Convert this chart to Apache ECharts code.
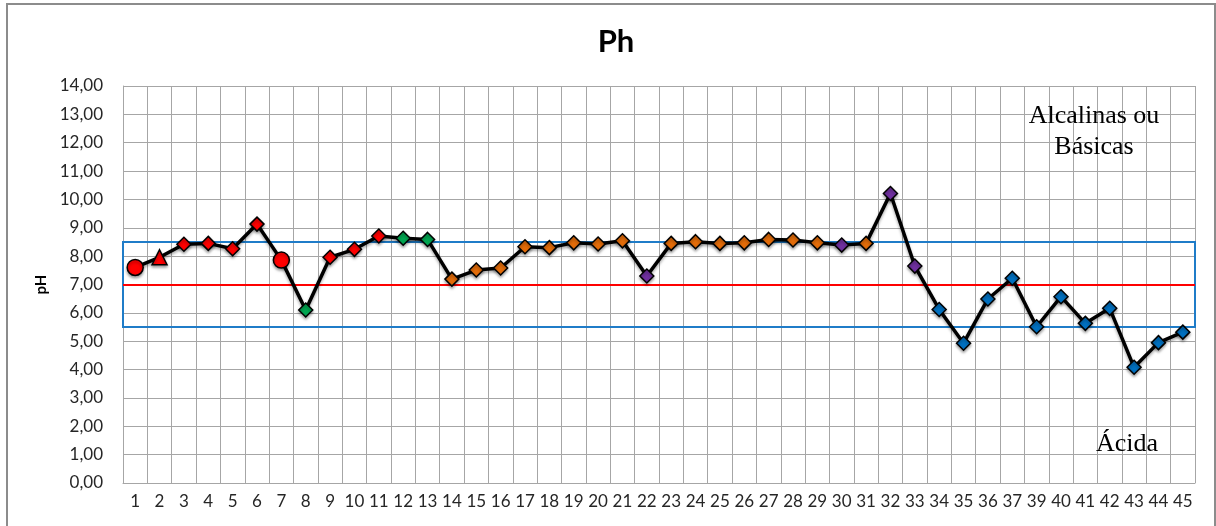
<!DOCTYPE html>
<html>
<head>
<meta charset="utf-8">
<script src="https://cdn.jsdelivr.net/npm/echarts@6/dist/echarts.min.js"></script>
<style>
  html, body { margin: 0; padding: 0; background: #fff; }
  #chart { width: 1216px; height: 526px; }
</style>
</head>
<body>
<div id="chart"></div>
<script>
// amostras (sem a 38)
var categories = ['1', '2', '3', '4', '5', '6', '7', '8', '9', '10', '11', '12', '13', '14', '15',
  '16', '17', '18', '19', '20', '21', '22', '23', '24', '25', '26', '27', '28', '29', '30',
  '31', '32', '33', '34', '35', '36', '37', '39', '40', '41', '42', '43', '44', '45'];
var phValues = [7.60, 7.96, 8.42, 8.45, 8.26, 9.13, 7.86, 6.10, 7.96, 8.24, 8.71, 8.63, 8.59, 7.19, 7.51,
  7.58, 8.33, 8.30, 8.47, 8.43, 8.54, 7.30, 8.45, 8.51, 8.45, 8.47, 8.59, 8.57, 8.47, 8.39,
  8.45, 10.21, 7.65, 6.12, 4.93, 6.49, 7.22, 5.51, 6.57, 5.63, 6.16, 4.08, 4.95, 5.32];
var sampleGroup = ['red', 'red', 'red', 'red', 'red', 'red', 'red', 'green', 'red', 'red', 'red', 'green', 'green',
  'orange', 'orange', 'orange', 'orange', 'orange', 'orange', 'orange', 'orange', 'purple',
  'orange', 'orange', 'orange', 'orange', 'orange', 'orange', 'orange', 'purple', 'orange',
  'purple', 'purple', 'blue', 'blue', 'blue', 'blue', 'blue', 'blue', 'blue', 'blue', 'blue', 'blue', 'blue'];
var sampleMarker = ['circle', 'triangle', 'diamond', 'diamond', 'diamond', 'diamond', 'circle'];
var yTicks = [0, 14, 1];
var neutralPh = 7;
var rangeLow = 5.5, rangeHigh = 8.5;

var groupColors = {
  red: '#ff0000',
  green: '#00a651',
  orange: '#e36c09',
  purple: '#7030a0',
  blue: '#0070c0'
};

var points = phValues.map(function (v, i) {
  var shape = sampleMarker[i] || 'diamond';
  return {
    value: v,
    symbol: shape,
    symbolSize: shape === 'circle' ? 16 : (shape === 'triangle' ? 15 : 14),
    itemStyle: { color: groupColors[sampleGroup[i]] }
  };
});

var chart = echarts.init(document.getElementById('chart'));
var labelFont = 'Lato, "Open Sans", sans-serif';

chart.setOption({
  animation: false,
  title: {
    text: 'Ph',
    left: 611,
    top: 21,
    textAlign: 'center',
    textStyle: { fontFamily: labelFont, fontWeight: 'bold', fontSize: 31, color: '#000' }
  },
  grid: { left: 123, right: 21, top: 86, bottom: 43 },
  xAxis: {
    type: 'category',
    data: categories,
    boundaryGap: true,
    axisLine: { show: true, lineStyle: { color: '#a6a6a6' } },
    axisTick: { show: false },
    axisLabel: { interval: 0, margin: 10, fontFamily: labelFont, fontSize: 17, color: '#262626' },
    splitLine: { show: true, interval: 0, lineStyle: { color: '#a6a6a6', width: 1 } }
  },
  yAxis: {
    type: 'value',
    min: yTicks[0],
    max: yTicks[1],
    interval: yTicks[2],
    name: 'pH',
    nameLocation: 'middle',
    nameGap: 74,
    nameTextStyle: { fontFamily: labelFont, fontWeight: 'bold', fontSize: 15, color: '#000' },
    axisLine: { show: true, lineStyle: { color: '#a6a6a6' } },
    axisTick: { show: false },
    axisLabel: {
      margin: 20,
      fontFamily: labelFont,
      fontSize: 17,
      color: '#262626',
      formatter: function (v) { return v.toFixed(2).replace('.', ','); }
    },
    splitLine: { show: true, lineStyle: { color: '#a6a6a6', width: 1 } }
  },
  series: [{
    type: 'line',
    data: points,
    z: 5,
    lineStyle: {
      color: '#000',
      width: 3.5,
      shadowColor: 'rgba(0,0,0,0.35)',
      shadowBlur: 3,
      shadowOffsetY: 2
    },
    itemStyle: {
      borderColor: '#000',
      borderWidth: 1.5,
      shadowColor: 'rgba(0,0,0,0.35)',
      shadowBlur: 3,
      shadowOffsetY: 2
    },
    markLine: {
      silent: true,
      symbol: 'none',
      label: { show: false },
      lineStyle: { color: '#ff0000', width: 2, type: 'solid' },
      data: [{ yAxis: neutralPh }],
      z: 3
    },
    markArea: {
      silent: true,
      itemStyle: { color: 'rgba(0,0,0,0)', borderColor: '#1f7cc8', borderWidth: 2 },
      data: [[{ yAxis: rangeLow }, { yAxis: rangeHigh }]]
    }
  }],
  graphic: [
    {
      type: 'rect',
      shape: { x: 7, y: 4, width: 1208, height: 560 },
      style: { fill: 'none', stroke: '#8c8c8c', lineWidth: 2 },
      silent: true
    },
    {
      type: 'text',
      x: 1094,
      y: 132,
      style: {
        text: 'Alcalinas ou\nBásicas',
        font: '26px "Liberation Serif", serif',
        fill: '#000',
        align: 'center',
        verticalAlign: 'middle',
        lineHeight: 31
      },
      z: 10
    },
    {
      type: 'text',
      x: 1127,
      y: 444,
      style: {
        text: 'Ácida',
        font: '26px "Liberation Serif", serif',
        fill: '#000',
        align: 'center',
        verticalAlign: 'middle'
      },
      z: 10
    }
  ]
});
</script>
</body>
</html>
